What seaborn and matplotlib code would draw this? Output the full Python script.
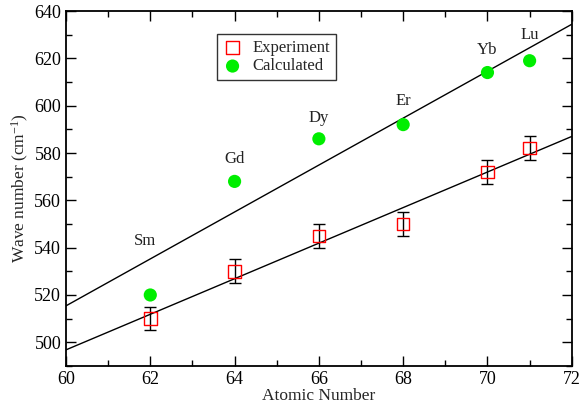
import numpy as np
import pandas as pd
import matplotlib
matplotlib.use("Agg")
import matplotlib.pyplot as plt
import seaborn as sns
from matplotlib.ticker import MultipleLocator

atomic_number = [62, 64, 66, 68, 70, 71]
elements = ["Sm", "Gd", "Dy", "Er", "Yb", "Lu"]
experiment = [510, 530, 545, 550, 572, 582]
exp_error = [5, 5, 5, 5, 5, 5]
calculated = [520, 568, 586, 592, 614, 619]
label_x = [61.87, 64.0, 66.0, 68.0, 70.0, 71.0]
label_y = [542.7, 577.4, 594.7, 601.9, 623.5, 629.8]

sns.set_theme(style="ticks")
plt.rcParams["font.family"] = ["Liberation Serif", "DejaVu Serif"]
plt.rcParams["mathtext.fontset"] = "custom"
plt.rcParams["mathtext.rm"] = "Liberation Serif"
plt.rcParams["mathtext.it"] = "Liberation Serif:italic"

df = pd.DataFrame({"Z": atomic_number, "exp": experiment, "err": exp_error, "calc": calculated})

fig = plt.figure(figsize=(5.82, 4.08), dpi=100)
ax = fig.add_axes([0.1134, 0.103, 0.869, 0.870])

xfit = np.array([60, 72])
pe = np.polyfit(df["Z"], df["exp"], 1)
pc = np.polyfit(df["Z"], df["calc"], 1)
ax.plot(xfit, np.polyval(pc, xfit), color="black", lw=1, zorder=1)
ax.plot(xfit, np.polyval(pe, xfit), color="black", lw=1, zorder=1)

ax.errorbar(df["Z"], df["exp"], yerr=df["err"], fmt="none", ecolor="black",
            elinewidth=1, capsize=4, capthick=1, zorder=2)
sns.scatterplot(data=df, x="Z", y="exp", ax=ax, marker="s", s=80,
                facecolor="none", edgecolor="red", linewidth=1, label="Experiment", zorder=3)
sns.scatterplot(data=df, x="Z", y="calc", ax=ax, marker="o", s=90,
                color="#00ee00", edgecolor="none", label="Calculated", zorder=3)

for lx, ly, t in zip(label_x, label_y, elements):
    ax.text(lx, ly, t, ha="center", va="center", fontsize=12, color="#222222")

ax.set_xlim(60, 72)
ax.set_ylim(490, 640)
ax.xaxis.set_major_locator(MultipleLocator(2))
ax.xaxis.set_minor_locator(MultipleLocator(1))
ax.yaxis.set_major_locator(MultipleLocator(20))
ax.yaxis.set_minor_locator(MultipleLocator(10))
ax.tick_params(which="both", direction="in", top=True, right=True, labelsize=13, colors="black")
ax.tick_params(which="major", length=7, width=1)
ax.tick_params(which="minor", length=4, width=1)
for sp in ax.spines.values():
    sp.set_linewidth(1.3)
    sp.set_color("black")
ax.set_xlabel("Atomic Number", fontsize=12.5, labelpad=0)
ax.set_ylabel("Wave number (cm$^{-1}$)", fontsize=12.5, labelpad=2)

leg = ax.legend(loc="upper left", bbox_to_anchor=(0.298, 0.935), frameon=True,
                fancybox=False, fontsize=12, handletextpad=0.6, borderpad=0.35,
                labelspacing=0.15, handlelength=1.2, borderaxespad=0)
leg.get_frame().set_edgecolor("black")
leg.get_frame().set_linewidth(1)

fig.savefig("out.png", dpi=100)
